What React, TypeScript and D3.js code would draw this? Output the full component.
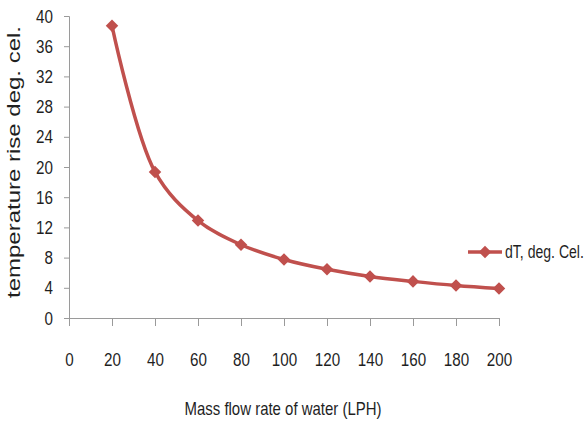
import React, { useEffect, useRef } from 'react';
import * as d3 from 'd3';

const flowRates = [20, 40, 60, 80, 100, 120, 140, 160, 180, 200];
const tempRise = [38.7, 19.35, 12.9, 9.7, 7.75, 6.45, 5.5, 4.85, 4.3, 3.9];
const xTicks = [0, 20, 40, 60, 80, 100, 120, 140, 160, 180, 200];
const yTicks = [0, 4, 8, 12, 16, 20, 24, 28, 32, 36, 40];
const seriesName = 'dT, deg. Cel.';
const xTitle = 'Mass flow rate of water (LPH)';
const yTitle = 'temperature rise deg. cel.';

const FONT = "'Liberation Sans', Arial, sans-serif";
const SQUEEZE = 0.8; // narrow the glyphs a bit, the original face is condensed

export default function App() {
  const svgRef = useRef<SVGSVGElement>(null);

  useEffect(() => {
    if (!svgRef.current) return;
    const svg = d3.select(svgRef.current);
    svg.selectAll('*').remove();

    const x = d3.scaleLinear().domain([0, 200]).range([69, 499]);
    const y = d3.scaleLinear().domain([0, 40]).range([318, 16]);
    const axisColor = '#9a9a9a';
    const red = '#c0504d';
    const ink = '#1f1f1f';

    // y axis
    const yAxis = svg.append('g')
      .attr('transform', 'translate(69,0)')
      .call(d3.axisLeft(y).tickValues(yTicks).tickSize(5).tickPadding(11));
    yAxis.select('.domain').attr('stroke', axisColor);
    yAxis.selectAll('line').attr('stroke', axisColor);
    yAxis.selectAll('text')
      .attr('x', -16 / SQUEEZE)
      .attr('transform', `scale(${SQUEEZE},1)`)
      .attr('fill', ink).style('font-size', '19px').style('font-family', FONT);

    // x axis
    const xAxis = svg.append('g')
      .attr('transform', 'translate(0,318)')
      .call(d3.axisBottom(x).tickValues(xTicks).tickSize(8).tickPadding(27));
    xAxis.select('.domain').attr('stroke', axisColor);
    xAxis.selectAll('line').attr('stroke', axisColor);
    xAxis.selectAll('text')
      .attr('transform', `scale(${SQUEEZE},1)`)
      .attr('fill', ink).style('font-size', '19px').style('font-family', FONT);

    const pts = flowRates.map((f, i) => [f, tempRise[i]] as [number, number]);
    const line = d3.line<[number, number]>()
      .x(d => x(d[0]))
      .y(d => y(d[1]))
      .curve(d3.curveCatmullRom.alpha(0.5));

    svg.append('path')
      .datum(pts)
      .attr('d', line)
      .attr('fill', 'none')
      .attr('stroke', red)
      .attr('stroke-width', 3.5);

    const diamond = d3.symbol().type(d3.symbolDiamond2).size(100);
    svg.selectAll('.pt')
      .data(pts)
      .enter().append('path')
      .attr('class', 'pt')
      .attr('d', diamond)
      .attr('transform', d => `translate(${x(d[0])},${y(d[1])})`)
      .attr('fill', red);

    // legend
    const lg = svg.append('g').attr('transform', 'translate(468,252)');
    lg.append('line').attr('x1', 0).attr('x2', 34).attr('stroke', red).attr('stroke-width', 3.5);
    lg.append('path').attr('d', diamond).attr('transform', 'translate(17,0)').attr('fill', red);
    lg.append('text')
      .attr('transform', `translate(37,6) scale(0.74,1)`)
      .style('font-size', '19px').style('font-family', FONT).attr('fill', ink)
      .text(seriesName);

    // axis titles
    svg.append('text')
      .attr('x', 283).attr('y', 415)
      .attr('text-anchor', 'middle')
      .attr('textLength', 197).attr('lengthAdjust', 'spacingAndGlyphs')
      .style('font-size', '19px').style('font-family', FONT).attr('fill', ink)
      .text(xTitle);

    svg.append('text')
      .attr('transform', 'translate(20,162) rotate(-90)')
      .attr('text-anchor', 'middle')
      .attr('textLength', 272).attr('lengthAdjust', 'spacingAndGlyphs')
      .style('font-size', '17.5px').style('font-family', FONT).attr('fill', ink)
      .text(yTitle);
  }, []);

  return (
    <div style={{ position: 'absolute', left: 0, top: 0, width: 588, height: 421, background: '#fff' }}>
      <svg ref={svgRef} width={588} height={421}></svg>
    </div>
  );
}
